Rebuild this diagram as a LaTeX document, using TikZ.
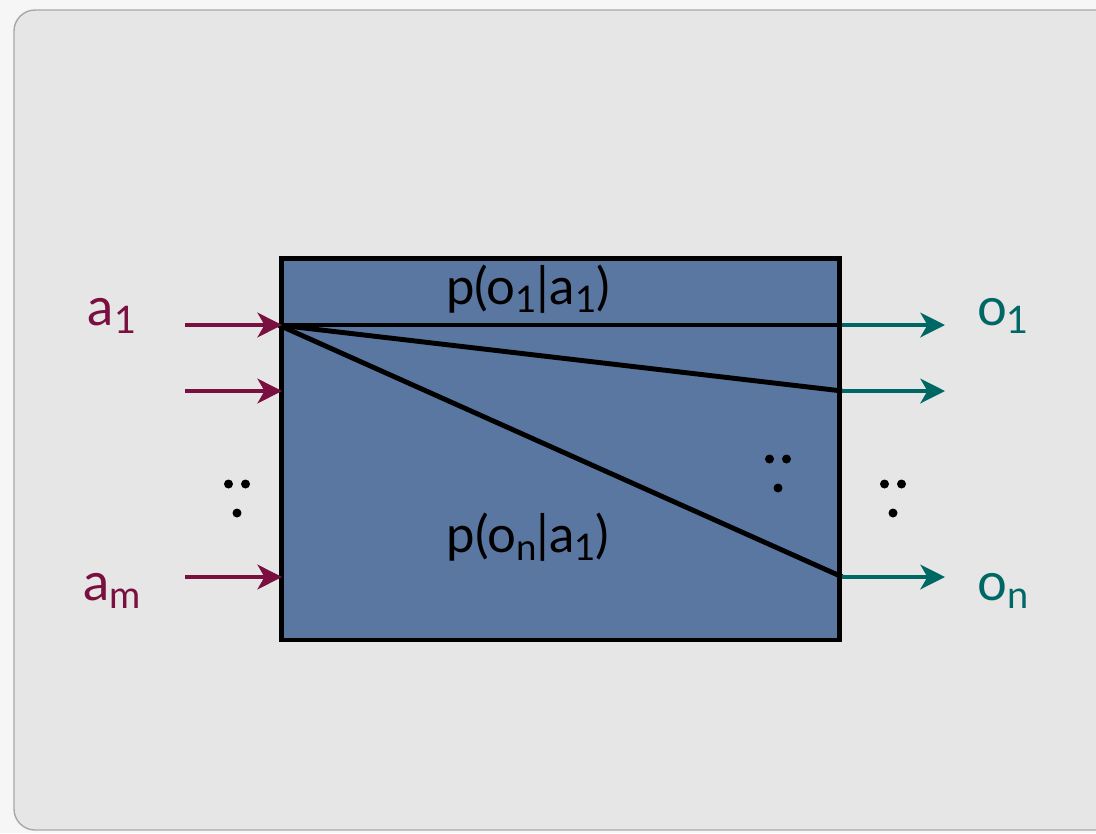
\documentclass[tikz,border=0pt]{standalone}
\usepackage{fontspec}
\setmainfont{Lato}
\usepackage{xcolor}
\usetikzlibrary{positioning,arrows.meta}
\definecolor{Page}{RGB}{246, 246, 246}
\definecolor{Slide}{RGB}{230, 230, 230}
\definecolor{Frame}{RGB}{168, 168, 168}
\definecolor{Channel}{RGB}{90, 119, 162}
\definecolor{Input}{RGB}{122, 16, 64}
\definecolor{Output}{RGB}{0, 104, 100}
\newcommand{\lowsub}[1]{\raisebox{-0.16em}{\scalebox{0.72}{#1}}}

\begin{document}
\begin{tikzpicture}[
    x=0.02cm, y=-0.02cm,
    chan/.style={rectangle, draw=black, fill=Channel, line width=2.8pt,
                 minimum width=11.18cm, minimum height=7.64cm, inner sep=0pt},
    inarr/.style={-{Stealth[length=14pt, width=14pt, inset=4pt]}, line width=2.2pt, Input},
    outarr/.style={-{Stealth[length=14pt, width=14pt, inset=4pt]}, line width=2.2pt, Output},
    trans/.style={line width=2.8pt, black},
    inlabel/.style={font=\fontsize{30}{32}\selectfont, text=Input, inner sep=0pt},
    outlabel/.style={font=\fontsize{30}{32}\selectfont, text=Output, inner sep=0pt},
    prob/.style={font=\fontsize{29}{31}\selectfont, text=black, inner sep=0pt},
    tridots/.pic={
        \fill (-8.5,-13) circle (4.5);
        \fill (8.5,-13) circle (4.5);
        \fill (0,16) circle (4.5);
    },
]
% slide background
\fill[Page] (0,0) rectangle (1096,833);
\useasboundingbox (0,0) rectangle (1096,833);
\filldraw[fill=Slide, draw=Frame, line width=0.8pt, rounded corners=12pt] (14,10) rectangle (1130,830);

% channel
\node[chan] (box) at (560.5,449) {};

% inputs and outputs
\coordinate (in1) at (185,325);
\coordinate (in2) at (185,391);
\coordinate (inm) at (185,577);
\coordinate (out1) at (945,325);
\coordinate (out2) at (945,391);
\coordinate (outn) at (945,577);

\draw[trans] (box.west |- in1) -- (box.east |- out1);
\draw[trans] (box.west |- in1) -- (box.east |- out2);
\draw[trans] (box.west |- in1) -- (box.east |- outn);

\draw[inarr] (in1) -- ([xshift=2pt]box.west |- in1);
\draw[inarr] (in2) -- ([xshift=2pt]box.west |- in2);
\draw[inarr] (inm) -- ([xshift=2pt]box.west |- inm);
\draw[outarr] (box.east |- out1) -- (out1);
\draw[outarr] (box.east |- out2) -- (out2);
\draw[outarr] (box.east |- outn) -- (outn);

% labels
\node[inlabel, anchor=base] (a1) at (112,325) {a\lowsub{1}};
\node[inlabel, anchor=base] (am) at (112,600) {a\lowsub{m}};
\node[outlabel, anchor=base] (o1) at (1003,325) {o\lowsub{1}};
\node[outlabel, anchor=base] (on) at (1003,600) {o\lowsub{n}};
\node[prob, anchor=base] (p1) at (528,304) {p(o\lowsub{1}|a\lowsub{1})};
\node[prob, anchor=base] (pn) at (528,552) {p(o\lowsub{n}|a\lowsub{1})};

% vertical dots
\pic at (237,497) {tridots};
\pic at (778,472) {tridots};
\pic at (893,497) {tridots};
\end{tikzpicture}
\end{document}
